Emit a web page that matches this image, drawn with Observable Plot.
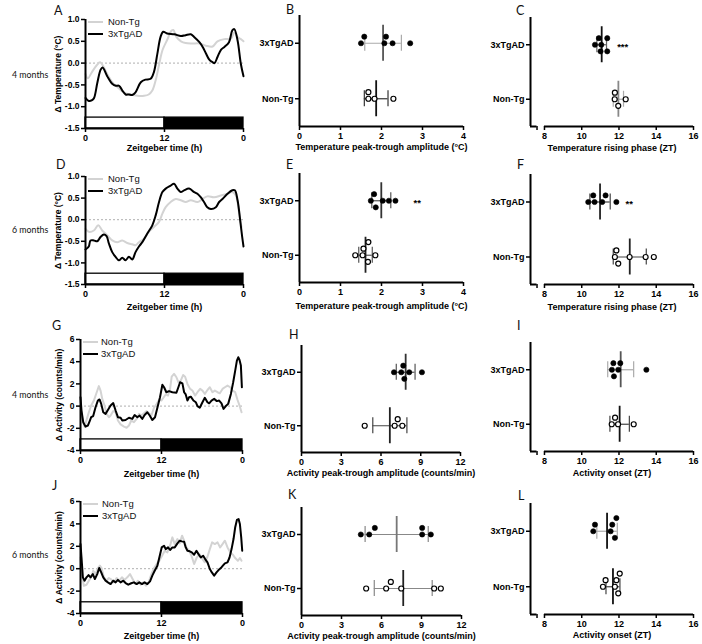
<!DOCTYPE html>
<html><head><meta charset="utf-8">
<script src="https://cdn.jsdelivr.net/npm/d3@7"></script>
<script src="https://cdn.jsdelivr.net/npm/@observablehq/plot@0.6"></script>
<style>
body{margin:0;background:#fff;}
#fig{position:relative;width:702px;height:644px;overflow:hidden;background:#fff;font-family:"Liberation Sans",Arial,sans-serif;}
.panel{position:absolute;}
.panel svg{background:transparent !important;overflow:visible;}
.letter{position:absolute;font-family:Lato,"Open Sans",sans-serif;font-size:12.5px;color:#111;line-height:12px;}
.rowlab{position:absolute;font-family:Lato,"Open Sans",sans-serif;font-size:8.8px;color:#111;line-height:12px;white-space:nowrap;}
.leg{position:absolute;font-size:9.5px;line-height:12px;height:12px;color:#111;white-space:nowrap;font-family:"Liberation Sans",Arial,sans-serif;}
.leg .sw{position:absolute;top:5px;width:15px;height:2px;}
</style></head><body><div id="fig"></div><script>
// ---------- data ----------
const groupNames = ["3xTgAD", "Non-Tg"];
const zeitTicks = [0, 12, 24];
const zeitTickLabels = ["0", "12", "0"];
const ldPhases = [{phase: "light", start: 0, end: 12}, {phase: "dark", start: 12, end: 24}];
const tempTicks = [-1.5, -1.0, -0.5, 0.0, 0.5, 1.0];
const actTicks = [-4, -2, 0, 2, 4, 6];
const ampTempTicks = [0, 1, 2, 3, 4];
const ampActTicks = [0, 3, 6, 9, 12];
const phaseTicks = [8, 10, 12, 14, 16];

// Temperature profiles, 4 months (ZT h, delta deg C)
const temp4mo_3xTgAD = [[0,-0.8],[0.5,-0.87],[1.0,-0.85],[1.3,-0.8],[1.8,-0.45],[2.3,-0.15],[2.6,-0.1],[3.3,-0.3],[4.1,-0.48],[4.6,-0.52],[5.1,-0.52],[5.6,-0.63],[6.1,-0.72],[6.6,-0.72],[7.1,-0.73],[7.6,-0.67],[8.4,-0.44],[9.1,-0.38],[9.9,-0.36],[10.4,-0.2],[10.9,0.2],[11.4,0.6],[11.8,0.72],[12.4,0.68],[13.5,0.66],[14.5,0.62],[15.2,0.64],[16.0,0.66],[16.5,0.6],[17.3,0.48],[17.8,0.37],[18.3,0.22],[18.8,0.08],[19.3,0.02],[19.6,0.0],[20.05,0.14],[20.6,0.31],[21.1,0.37],[21.8,0.48],[22.3,0.75],[22.6,0.78],[23.1,0.52],[23.6,-0.02],[24,-0.3]];
const temp4mo_NonTg = [[0,-0.25],[0.35,-0.35],[1.0,-0.2],[1.7,-0.05],[2.2,0.02],[2.8,-0.1],[3.3,-0.25],[4.1,-0.44],[4.8,-0.54],[5.8,-0.67],[6.85,-0.72],[7.9,-0.75],[8.9,-0.75],[9.6,-0.72],[10.15,-0.63],[10.65,-0.4],[11.2,-0.02],[11.7,0.3],[12.4,0.53],[13.05,0.74],[13.35,0.76],[13.8,0.6],[14.5,0.5],[15.2,0.46],[16.2,0.45],[17.3,0.45],[18.3,0.4],[19.3,0.38],[20.05,0.5],[21.1,0.55],[22.1,0.56],[22.6,0.7],[23.1,0.6],[23.6,0.55],[24,0.5]];
// Temperature profiles, 6 months
const temp6mo_3xTgAD = [[0,-0.69],[0.5,-0.62],[0.76,-0.48],[1.27,-0.48],[1.78,-0.5],[2.28,-0.4],[2.79,-0.34],[3.2,-0.38],[3.55,-0.55],[4.06,-0.75],[4.57,-0.86],[5.08,-0.94],[5.58,-0.88],[6.09,-0.94],[6.6,-0.86],[7.1,-0.92],[7.6,-0.75],[8.12,-0.62],[8.63,-0.52],[9.39,-0.32],[10.15,-0.13],[10.66,0.1],[11.17,0.41],[11.68,0.64],[12.18,0.72],[12.94,0.79],[13.45,0.83],[13.96,0.72],[14.47,0.64],[14.97,0.68],[15.74,0.72],[16.5,0.64],[17.0,0.6],[17.5,0.52],[18.0,0.41],[18.5,0.29],[19.04,0.25],[19.8,0.29],[20.3,0.41],[20.81,0.48],[21.57,0.6],[22.3,0.68],[22.69,0.68],[23.1,0.45],[23.5,-0.02],[23.8,-0.4],[24,-0.62]];
const temp6mo_NonTg = [[0,-0.21],[0.5,-0.28],[1.27,-0.25],[1.93,-0.13],[2.54,-0.25],[3.3,-0.36],[4.06,-0.48],[4.82,-0.52],[5.58,-0.48],[6.35,-0.54],[7.1,-0.57],[7.6,-0.59],[8.12,-0.52],[8.88,-0.44],[9.64,-0.28],[10.4,-0.17],[11.17,-0.05],[11.68,0.14],[12.18,0.29],[12.94,0.41],[13.7,0.48],[14.47,0.45],[15.23,0.41],[15.99,0.45],[17.0,0.41],[17.77,0.48],[18.5,0.54],[19.54,0.52],[20.56,0.56],[21.57,0.6],[22.3,0.64],[22.84,0.56],[23.35,0.14],[23.7,-0.17]];
// Activity profiles, 4 months (delta counts/min)
const act4mo_3xTgAD = [[0,0.8],[0.15,-0.4],[0.4,-1.45],[0.74,-1.85],[1.09,-1.75],[1.39,-1.3],[1.58,-1.0],[1.88,-0.9],[2.23,-0.1],[2.57,0.5],[2.82,0.6],[3.07,0.2],[3.37,-0.55],[3.71,-0.7],[4.06,-0.35],[4.46,0.05],[4.85,0.27],[5.2,-0.4],[5.54,-1.0],[5.94,-1.05],[6.19,-1.3],[6.68,-1.25],[7.18,-1.05],[7.67,-1.15],[8.02,-0.8],[8.42,-1.0],[8.76,-0.85],[9.16,-1.15],[9.5,-0.8],[9.9,-0.55],[10.25,-0.85],[10.64,-1.25],[11.04,-1.0],[11.39,-0.15],[11.78,0.8],[12.13,1.92],[12.38,1.7],[12.72,1.25],[13.12,1.35],[13.61,1.25],[14.21,1.2],[14.5,1.7],[14.75,2.15],[15.1,2.05],[15.35,1.25],[15.59,1.05],[15.84,0.5],[16.09,0.8],[16.34,0.85],[16.73,0.5],[17.08,0.35],[17.33,0.0],[17.67,-0.15],[18.07,0.35],[18.42,0.75],[18.81,0.35],[19.06,0.25],[19.41,0.5],[19.8,0.65],[20.2,0.45],[20.54,0.5],[20.89,0.25],[21.19,-0.25],[21.53,0.0],[21.88,0.2],[22.28,1.1],[22.62,2.15],[22.92,3.2],[23.17,4.1],[23.37,4.4],[23.56,4.15],[23.76,3.65],[23.91,1.7]];
const act4mo_NonTg = [[0,0.0],[0.25,-1.0],[0.6,-1.85],[1.24,-0.55],[1.58,0.05],[1.98,0.5],[2.38,1.2],[2.72,1.8],[2.97,1.4],[3.22,0.65],[3.56,0.05],[3.86,-0.7],[4.21,-1.0],[4.46,-0.85],[4.85,-0.45],[5.2,-0.55],[5.54,-1.3],[5.94,-1.65],[6.44,-1.85],[6.83,-1.95],[7.18,-1.75],[7.52,-1.3],[7.92,-1.45],[8.32,-1.15],[8.66,-0.7],[9.01,-0.85],[9.41,-0.65],[9.75,-0.45],[10.15,-0.65],[10.5,-0.85],[10.89,-0.15],[11.29,0.2],[11.63,0.55],[11.98,0.5],[12.28,0.75],[12.62,1.05],[12.97,0.95],[13.27,1.55],[13.51,2.65],[13.86,2.9],[14.21,2.6],[14.5,2.15],[14.85,2.3],[15.2,2.8],[15.5,2.65],[15.84,2.0],[16.24,1.55],[16.58,1.4],[16.98,0.95],[17.33,1.25],[17.72,1.55],[18.07,1.4],[18.42,1.1],[18.81,1.45],[19.16,1.7],[19.55,1.25],[19.9,1.4],[20.3,1.25],[20.64,1.15],[21.04,1.55],[21.39,1.7],[21.78,1.85],[22.18,1.7],[22.52,1.4],[22.92,1.25],[23.27,0.55],[23.56,0.05],[23.86,-0.55]];
// Activity profiles, 6 months
const act6mo_3xTgAD = [[0,2.2],[0.15,1.0],[0.35,-0.77],[0.6,-1.07],[0.89,-0.77],[1.19,-0.57],[1.49,-0.77],[1.83,-0.48],[2.13,-0.92],[2.48,-0.48],[2.77,0.06],[3.07,-0.33],[3.37,-0.77],[3.71,-1.07],[4.06,-1.22],[4.46,-1.37],[4.85,-1.07],[5.2,-1.22],[5.54,-1.0],[5.94,-1.22],[6.34,-1.07],[6.68,-1.28],[7.08,-1.43],[7.52,-1.3],[7.92,-1.22],[8.32,-1.37],[8.71,-1.22],[9.11,-1.37],[9.5,-1.22],[9.9,-1.37],[10.3,-1.13],[10.64,-0.62],[10.99,-0.18],[11.39,0.27],[11.68,1.0],[12.03,1.9],[12.38,2.05],[12.62,1.75],[12.97,1.9],[13.27,1.67],[13.61,1.9],[13.96,1.9],[14.36,2.26],[14.7,2.5],[15.0,2.44],[15.35,2.4],[15.59,1.9],[15.84,1.6],[16.19,1.55],[16.49,1.46],[16.83,1.25],[17.18,1.6],[17.48,1.3],[17.82,1.0],[18.17,1.16],[18.47,0.86],[18.81,0.57],[19.16,-0.03],[19.46,-0.33],[19.8,-0.62],[20.15,-0.33],[20.45,-0.12],[20.79,0.06],[21.09,0.27],[21.39,0.48],[21.78,0.57],[22.08,1.0],[22.38,1.75],[22.67,2.65],[22.92,3.7],[23.17,4.35],[23.42,4.43],[23.61,4.0],[23.81,2.8],[23.96,1.6]];
const act6mo_NonTg = [[0,1.0],[0.2,-0.48],[0.5,-1.52],[0.89,-1.43],[1.24,-1.07],[1.58,-0.77],[1.88,-0.18],[2.23,-0.48],[2.57,0.06],[2.87,0.27],[3.12,0.06],[3.47,-0.77],[3.86,-1.07],[4.21,-0.83],[4.55,-0.95],[4.95,-1.22],[5.35,-0.83],[5.74,-1.07],[6.14,-0.77],[6.53,-1.0],[6.93,-0.77],[7.33,-0.48],[7.72,-0.92],[8.12,-1.37],[8.51,-1.07],[8.91,-1.43],[9.31,-1.22],[9.7,-1.52],[10.1,-1.22],[10.5,-0.48],[10.89,0.06],[11.29,0.42],[11.68,0.71],[12.08,1.16],[12.48,1.6],[12.87,1.46],[13.27,2.05],[13.61,2.8],[13.96,2.2],[14.36,2.65],[14.7,2.26],[15.05,2.95],[15.35,2.5],[15.69,1.9],[16.09,1.6],[16.44,1.16],[16.83,0.42],[17.23,1.0],[17.62,1.3],[18.07,0.86],[18.42,0.57],[18.81,1.07],[19.16,1.75],[19.5,2.35],[19.9,2.2],[20.3,2.35],[20.69,1.9],[21.04,2.2],[21.39,2.5],[21.78,1.9],[22.18,1.46],[22.57,1.25],[22.92,0.95],[23.32,0.71],[23.61,0.95],[23.86,0.71]];

// Individual animals
const tempAmp4mo_3xTgAD = [1.58, 1.50, 2.07, 2.11, 2.27, 2.70];
const tempAmp4mo_NonTg = [1.68, 1.68, 1.83, 2.29];
const tempPhase4mo_3xTgAD = [11.01, 10.92, 11.37, 10.71, 11.37, 11.05];
const tempPhase4mo_NonTg = [11.78, 11.77, 12.36, 11.96];
const tempAmp6mo_3xTgAD = [1.82, 1.74, 2.03, 2.34, 2.18, 1.86];
const tempAmp6mo_NonTg = [1.67, 1.54, 1.36, 1.85, 1.56, 1.68];
const tempPhase6mo_3xTgAD = [10.62, 10.35, 11.10, 11.28, 10.69, 11.86];
const tempPhase6mo_NonTg = [11.86, 11.78, 11.96, 12.57, 13.43, 13.87];
const actAmp4mo_3xTgAD = [7.76, 6.98, 7.53, 8.13, 9.09, 7.68];
const actAmp4mo_NonTg = [4.77, 7.03, 7.61, 7.26];
const actOnset4mo_3xTgAD = [11.96, 11.70, 12.07, 11.62, 11.73, 13.47];
const actOnset4mo_NonTg = [11.79, 11.61, 12.79, 11.95];
const actAmp6mo_3xTgAD = [4.45, 5.08, 5.50, 9.05, 9.05, 9.70];
const actAmp6mo_NonTg = [4.85, 6.35, 6.70, 7.48, 9.95, 10.45];
const actOnset6mo_3xTgAD = [11.78, 10.71, 11.55, 10.62, 11.64, 11.86];
const actOnset6mo_NonTg = [11.96, 11.28, 11.78, 11.14, 11.86, 12.04];

// significance marks (group, x position in data units, label)
const sigC = {group: "3xTgAD", x: 12.2, text: "***"};
const sigE = {group: "3xTgAD", x: 2.87, text: "**"};
const sigF = {group: "3xTgAD", x: 12.55, text: "**"};

// ---------- drawing ----------
const fig = document.getElementById("fig");
const baseStyle = {fontFamily: "Liberation Sans, Arial, sans-serif", fontSize: "9px", fontWeight: "bold", color: "#000", background: "transparent", overflow: "visible"};

function place(node, left, top) {
  const d = document.createElement("div");
  d.className = "panel";
  d.style.left = left + "px"; d.style.top = top + "px";
  d.appendChild(node);
  fig.appendChild(d);
}

function linePanel(p) {
  const [y0, y1] = p.yDomain;
  const barTop = y0 + (y1 - y0) * 0.1;
  const rows = arr => arr.map(([t, v]) => ({t, v}));
  const curve = p.smooth ? "catmull-rom" : "linear";
  const light = ldPhases.filter(d => d.phase === "light");
  const dark = ldPhases.filter(d => d.phase === "dark");
  return Plot.plot({
    width: p.width, height: p.height,
    marginLeft: p.mL, marginRight: p.mR, marginTop: p.mT, marginBottom: p.mB,
    style: baseStyle,
    x: {domain: [0, 24]},
    y: {domain: p.yDomain},
    marks: [
      Plot.ruleY([0], {stroke: "#9a9a9a", strokeWidth: 0.8, strokeDasharray: "2,2"}),
      Plot.line(rows(p.nonTg), {x: "t", y: "v", stroke: "#d3d3d3", strokeWidth: 2, curve}),
      Plot.line(rows(p.tg), {x: "t", y: "v", stroke: "#000", strokeWidth: 2, curve}),
      Plot.rect(light, {x1: "start", x2: "end", y1: () => y0, y2: () => barTop, fill: "white", stroke: "black", strokeWidth: 1.3}),
      Plot.rect(dark, {x1: "start", x2: "end", y1: () => y0, y2: () => barTop, fill: "black", stroke: "black", strokeWidth: 1.3}),
      Plot.ruleX([0], {stroke: "black", strokeWidth: 2}),
      Plot.ruleY([y0], {stroke: "black", strokeWidth: 2}),
      Plot.axisY({ticks: p.yTicks, tickFormat: p.yFormat, tickSize: 4, tickPadding: 2, strokeWidth: 1.5, fontSize: 8.5,
        label: p.yLabel, labelAnchor: "center", labelOffset: p.yLabelOffset, labelArrow: "none"}),
      Plot.axisX({ticks: zeitTicks, tickFormat: d => zeitTickLabels[zeitTicks.indexOf(d)], tickSize: 4, tickPadding: 2, strokeWidth: 1.5,
        label: "Zeitgeber time (h)", labelAnchor: "center", labelOffset: p.xLabelOffset, labelArrow: "none"})
    ]
  });
}

function dodgeLanes(vals, pxPerUnit, minDist) {
  const order = d3.range(vals.length).sort((a, b) => vals[a] - vals[b]);
  const placed = [], lanes = [];
  for (const i of order) {
    const x = vals[i] * pxPerUnit;
    for (const k of [0, 1, -1, 2, -2, 3, -3]) {
      if (placed.every(q => q.k !== k || Math.abs(q.x - x) >= minDist)) { lanes[i] = k; placed.push({x, k}); break; }
    }
  }
  return lanes;
}

function dotPanel(p) {
  const innerW = p.width - p.mL - p.mR, innerH = p.height - p.mT - p.mB;
  const pxX = innerW / (p.xDomain[1] - p.xDomain[0]);
  const pxY = innerH / 2;
  const n = groupNames.length;
  const center = name => n - groupNames.indexOf(name) - 0.5;
  const marks = [];
  const dots = [];
  p.groups.forEach((vals, i) => {
    const c = center(groupNames[i]);
    const mean = d3.mean(vals), sd = d3.deviation(vals);
    const lo = mean - sd, hi = mean + sd;
    const col = p.colors[i];
    marks.push(Plot.ruleY([c], {x1: () => lo, x2: () => hi, stroke: col.bar, strokeWidth: 1.2}));
    marks.push(Plot.ruleX([lo, hi], {x: d => d, y1: () => c - 8 / pxY, y2: () => c + 8 / pxY, stroke: col.bar, strokeWidth: 1.2}));
    marks.push(Plot.ruleX([mean], {x: d => d, y1: () => c - 18 / pxY, y2: () => c + 18 / pxY, stroke: col.mean, strokeWidth: 1.8}));
    const lanes = dodgeLanes(vals, pxX, 6);
    vals.forEach((v, j) => dots.push({v, y: c + lanes[j] * 6.6 / pxY, open: groupNames[i] === "Non-Tg"}));
  });
  marks.push(Plot.dot(dots.filter(d => !d.open), {x: "v", y: "y", r: 2.6, fill: "black", stroke: "black", strokeWidth: 0.6}));
  marks.push(Plot.dot(dots.filter(d => d.open), {x: "v", y: "y", r: 2.5, fill: "white", stroke: "black", strokeWidth: 1.2}));
  if (p.sig) marks.push(Plot.text([p.sig], {x: "x", y: d => center(d.group), text: "text", fontSize: 9.5, fontWeight: "bold", dy: 2}));
  marks.push(Plot.ruleX([p.xDomain[0]], {stroke: "black", strokeWidth: 2}));
  let xt = p.xTicks, fmt = d => String(d);
  if (p.broken) {
    const brk = p.xDomain[0] + 0.35;
    marks.push(Plot.ruleY([0], {x1: () => p.xDomain[0], x2: () => brk, stroke: "black", strokeWidth: 2}));
    marks.push(Plot.ruleY([0], {x1: () => p.xTicks[0], x2: () => p.xTicks[p.xTicks.length - 1], stroke: "black", strokeWidth: 2}));
    xt = [brk, ...p.xTicks];
    fmt = d => d < p.xTicks[0] ? "" : String(d);
  } else {
    marks.push(Plot.ruleY([0], {stroke: "black", strokeWidth: 2}));
  }
  marks.push(Plot.axisY({ticks: groupNames.map(center), tickFormat: d => groupNames[n - d - 0.5], tickSize: 4, tickPadding: 2, strokeWidth: 1.5, label: null}));
  marks.push(Plot.axisX({ticks: xt, tickFormat: fmt, tickSize: 4, tickPadding: 2, strokeWidth: 1.5,
    label: p.xLabel, labelAnchor: "center", labelOffset: p.xLabelOffset, labelArrow: "none"}));
  return Plot.plot({
    width: p.width, height: p.height,
    marginLeft: p.mL, marginRight: p.mR, marginTop: p.mT, marginBottom: p.mB,
    style: baseStyle,
    x: {domain: p.xDomain},
    y: {domain: [0, 2]},
    marks
  });
}

const fmtTemp = d => d.toFixed(1);
const fmtAct = d => String(d);

// Column 1: profiles
place(linePanel({width: 250, height: 160, mL: 85, mR: 7, mT: 19, mB: 32, yDomain: [-1.5, 1.0], yTicks: tempTicks, yFormat: fmtTemp,
  yLabel: "Δ Temperature (°C)", yLabelOffset: 31, xLabelOffset: 22, smooth: true, tg: temp4mo_3xTgAD, nonTg: temp4mo_NonTg}), 0, 0);
place(linePanel({width: 250, height: 160, mL: 85, mR: 7, mT: 16, mB: 36, yDomain: [-1.5, 1.0], yTicks: tempTicks, yFormat: fmtTemp,
  yLabel: "Δ Temperature (°C)", yLabelOffset: 31, xLabelOffset: 25, smooth: true, tg: temp6mo_3xTgAD, nonTg: temp6mo_NonTg}), 0, 160);
place(linePanel({width: 250, height: 160, mL: 80, mR: 8, mT: 19, mB: 30, yDomain: [-4, 6], yTicks: actTicks, yFormat: fmtAct,
  yLabel: "Δ Activity (counts/min)", yLabelOffset: 25, xLabelOffset: 26, smooth: false, tg: act4mo_3xTgAD, nonTg: act4mo_NonTg}), 0, 320);
place(linePanel({width: 250, height: 164, mL: 80, mR: 8, mT: 21, mB: 31, yDomain: [-4, 6], yTicks: actTicks, yFormat: fmtAct,
  yLabel: "Δ Activity (counts/min)", yLabelOffset: 25, xLabelOffset: 25, smooth: false, tg: act6mo_3xTgAD, nonTg: act6mo_NonTg}), 0, 480);

// Column 2: amplitudes
place(dotPanel({width: 225, height: 160, mL: 49, mR: 12, mT: 15, mB: 34, xDomain: [0, 4], xTicks: ampTempTicks,
  xLabel: "Temperature peak-trough amplitude (°C)", xLabelOffset: 23, groups: [tempAmp4mo_3xTgAD, tempAmp4mo_NonTg],
  colors: [{mean: "#555", bar: "#aaa"}, {mean: "#111", bar: "#333"}]}), 250, 0);
place(dotPanel({width: 225, height: 160, mL: 49, mR: 12, mT: 13, mB: 38, xDomain: [0, 4], xTicks: ampTempTicks,
  xLabel: "Temperature peak-trough amplitude (°C)", xLabelOffset: 26, groups: [tempAmp6mo_3xTgAD, tempAmp6mo_NonTg], sig: sigE,
  colors: [{mean: "#333", bar: "#555"}, {mean: "#222", bar: "#555"}]}), 250, 160);
place(dotPanel({width: 225, height: 160, mL: 51, mR: 15, mT: 25, mB: 28, xDomain: [0, 12], xTicks: ampActTicks,
  xLabel: "Activity peak-trough amplitude (counts/min)", xLabelOffset: 23, groups: [actAmp4mo_3xTgAD, actAmp4mo_NonTg],
  colors: [{mean: "#333", bar: "#555"}, {mean: "#222", bar: "#444"}]}), 250, 320);
place(dotPanel({width: 225, height: 164, mL: 51, mR: 14, mT: 27, mB: 29, xDomain: [0, 12], xTicks: ampActTicks,
  xLabel: "Activity peak-trough amplitude (counts/min)", xLabelOffset: 23, groups: [actAmp6mo_3xTgAD, actAmp6mo_NonTg],
  colors: [{mean: "#777", bar: "#888"}, {mean: "#222", bar: "#888"}]}), 250, 480);

// Column 3: phases
place(dotPanel({width: 227, height: 160, mL: 55, mR: 9, mT: 17, mB: 34, xDomain: [7.25, 16], xTicks: phaseTicks, broken: true,
  xLabel: "Temperature rising phase (ZT)", xLabelOffset: 24, groups: [tempPhase4mo_3xTgAD, tempPhase4mo_NonTg], sig: sigC,
  colors: [{mean: "#111", bar: "#666"}, {mean: "#888", bar: "#aaa"}]}), 475, 0);
place(dotPanel({width: 227, height: 160, mL: 55, mR: 9, mT: 14, mB: 36, xDomain: [7.25, 16], xTicks: phaseTicks, broken: true,
  xLabel: "Temperature rising phase (ZT)", xLabelOffset: 25, groups: [tempPhase6mo_3xTgAD, tempPhase6mo_NonTg], sig: sigF,
  colors: [{mean: "#222", bar: "#444"}, {mean: "#222", bar: "#444"}]}), 475, 160);
place(dotPanel({width: 227, height: 160, mL: 55, mR: 9, mT: 22, mB: 29, xDomain: [7.25, 16], xTicks: phaseTicks, broken: true,
  xLabel: "Activity onset (ZT)", xLabelOffset: 24, groups: [actOnset4mo_3xTgAD, actOnset4mo_NonTg],
  colors: [{mean: "#555", bar: "#aaa"}, {mean: "#111", bar: "#444"}]}), 475, 320);
place(dotPanel({width: 227, height: 164, mL: 55, mR: 9, mT: 23, mB: 30, xDomain: [7.25, 16], xTicks: phaseTicks, broken: true,
  xLabel: "Activity onset (ZT)", xLabelOffset: 23, groups: [actOnset6mo_3xTgAD, actOnset6mo_NonTg],
  colors: [{mean: "#111", bar: "#aaa"}, {mean: "#111", bar: "#444"}]}), 475, 480);

// Legends
function legend(x, yNon, yTg, textX) {
  [["Non-Tg", "#d3d3d3", yNon], ["3xTgAD", "#000", yTg]].forEach(([name, color, y]) => {
    const d = document.createElement("div");
    d.className = "leg";
    d.style.left = x + "px"; d.style.top = (y - 6) + "px";
    const sw = document.createElement("span"); sw.className = "sw"; sw.style.left = "0px"; sw.style.background = color;
    const t = document.createElement("span"); t.textContent = name; t.style.position = "absolute"; t.style.left = (textX - x) + "px";
    d.appendChild(sw); d.appendChild(t);
    fig.appendChild(d);
  });
}
legend(88, 22, 34, 108);
legend(88, 179, 191, 108);
legend(83, 342, 354, 101);
legend(83, 504, 516, 102);

// Panel letters and row labels
[["A", 54, 5], ["B", 286, 4], ["C", 516, 5], ["D", 56, 159], ["E", 286, 159], ["F", 517, 159],
 ["G", 52, 320], ["H", 289, 329], ["I", 517, 320], ["J", 52, 480], ["K", 288, 489], ["L", 518, 490]].forEach(([t, x, y]) => {
  const d = document.createElement("div"); d.className = "letter"; d.textContent = t;
  d.style.left = x + "px"; d.style.top = y + "px"; fig.appendChild(d);
});
[["4 months", 12, 69], ["6 months", 12, 224], ["4 months", 12, 389], ["6 months", 12, 549]].forEach(([t, x, y]) => {
  const d = document.createElement("div"); d.className = "rowlab"; d.textContent = t;
  d.style.left = x + "px"; d.style.top = y + "px"; fig.appendChild(d);
});
</script></body></html>
